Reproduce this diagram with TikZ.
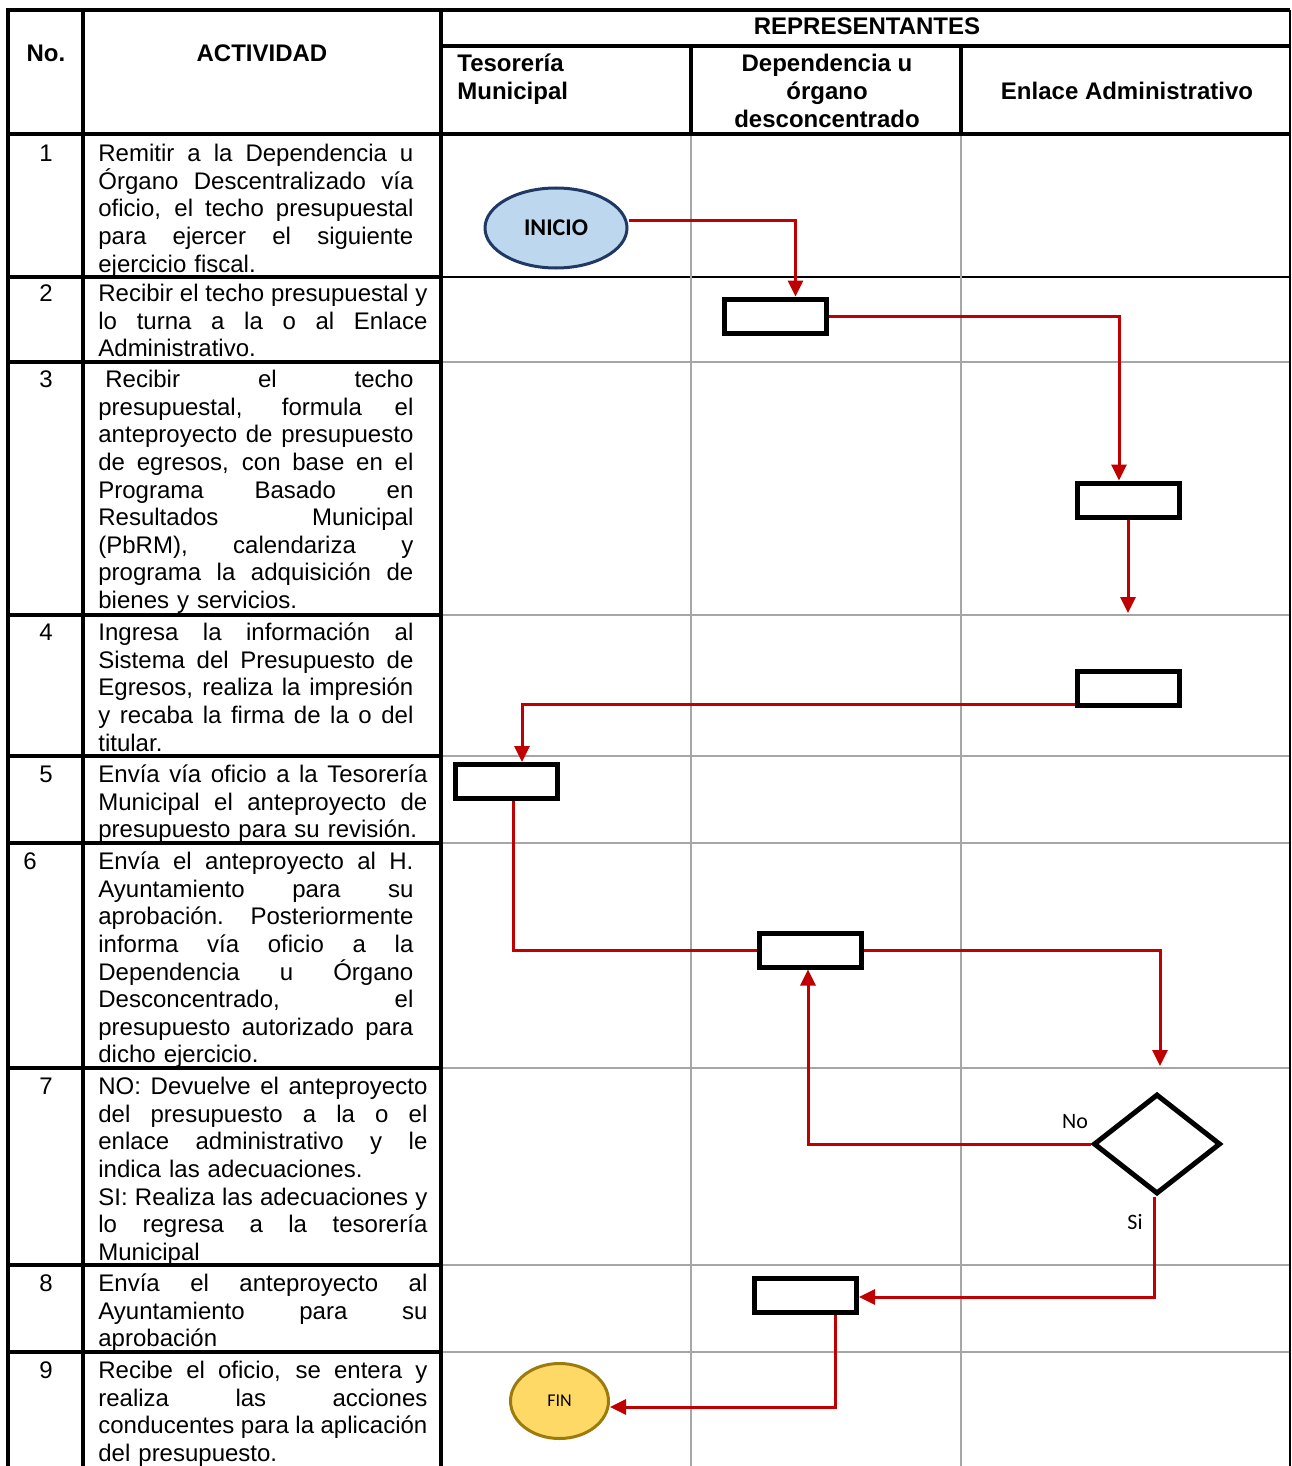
\documentclass[tikz,border=0pt]{standalone}
\usepackage{fontspec}
\setmainfont{Liberation Sans}
\newfontfamily\calfont{Carlito}
\usetikzlibrary{positioning,arrows.meta,shapes.geometric}
\definecolor{cFlow}{HTML}{C00000}
\definecolor{cGrid}{HTML}{A6A6A6}
\definecolor{cStartFill}{HTML}{BDD7EE}
\definecolor{cStartLine}{HTML}{203864}
\definecolor{cEndFill}{HTML}{FFD966}
\definecolor{cEndLine}{HTML}{9C7A0C}
\newcommand{\jl}[1]{\makebox[\hsize][s]{\spaceskip=0pt\xspaceskip=0pt\relax #1}}

\begin{document}
\begin{tikzpicture}[x=0.5pt,y=-0.5pt,
    font=\fontsize{12}{13.8}\selectfont,
    thick rule/.style={line width=2pt,black},
    grid rule/.style={line width=1pt,cGrid},
    head/.style={font=\fontsize{12}{14}\selectfont\bfseries,inner sep=0pt,align=center},
    num/.style={inner sep=0pt,anchor=north},
    act/.style={inner sep=0pt,anchor=north west,align=left,
      execute at begin node={\lineskiplimit=-6pt}},
    task/.style={draw,fill=white,line width=2.5pt,minimum width=51pt,minimum height=17pt,inner sep=0pt},
    flow/.style={cFlow,line width=1.5pt},
    flowarr/.style={flow,-{Triangle[length=8pt,width=7.5pt]}},
    lbl/.style={font=\calfont\fontsize{11}{13}\selectfont,inner sep=0pt}]
  \useasboundingbox (0,0) rectangle (1291,1466);

  % lanes
  \foreach \y in {362,615,756,843,1068,1265,1352}
    \draw[grid rule] (441,\y) -- (1290,\y);
  \draw[line width=1pt] (441,277) -- (1290,277);
  \foreach \x in {691,961}
    \draw[grid rule] (\x,134) -- (\x,1466);
  \draw[line width=1pt] (1290,10) -- (1290,1466);

  % table frame
  \foreach \y in {277,362,615,756,843,1068,1265,1352}
    \draw[thick rule] (8,\y) -- (441,\y);
  \draw[thick rule] (8,10) -- (1290,10);
  \draw[thick rule] (441,46) -- (1290,46);
  \draw[thick rule] (8,134) -- (1290,134);
  \foreach \x in {8,83,441}
    \draw[thick rule] (\x,8) -- (\x,1466);
  \foreach \x in {691,961}
    \draw[thick rule] (\x,46) -- (\x,134);

  % header
  \node[head] (hNo) at (46,53) {No.};
  \node[head] (hAct) at (262,53) {ACTIVIDAD};
  \node[head] (hRep) at (867,26) {REPRESENTANTES};
  \node[head,align=left,anchor=west] (hTes) at (457,79) {Tesorería\\Municipal};
  \node[head] (hDep) at (827,91) {Dependencia u\\órgano\\desconcentrado};
  \node[head] (hEnl) at (1127,91) {Enlace Administrativo};

  % activities
  \node[num] (n1) at (46,142) {\strut 1};
  \node[act,text width=157.5pt] (a1) at (98,142) {\strut\jl{Remitir a la Dependencia u}\\
    \jl{Órgano Descentralizado vía}\\\jl{oficio, el techo presupuestal}\\
    \jl{para ejercer el siguiente}\\ejercicio fiscal.};
  \node[num] (n2) at (46,282) {\strut 2};
  \node[act,text width=164.5pt] (a2) at (98,282) {\strut\jl{Recibir el techo presupuestal y}\\
    \jl{lo turna a la o al Enlace}\\Administrativo.};
  \node[num] (n3) at (46,368) {\strut 3};
  \node[act,text width=157.5pt] (a3) at (98,368) {\strut\jl{\hspace*{3.5pt}Recibir el techo}\\
    \jl{presupuestal, formula el}\\\jl{anteproyecto de presupuesto}\\
    \jl{de egresos, con base en el}\\\jl{Programa Basado en}\\
    \jl{Resultados Municipal}\\\jl{(PbRM), calendariza y}\\
    \jl{programa la adquisición de}\\bienes y servicios.};
  \node[num] (n4) at (46,621) {\strut 4};
  \node[act,text width=157.5pt] (a4) at (98,621) {\strut\jl{Ingresa la información al}\\
    \jl{Sistema del Presupuesto de}\\\jl{Egresos, realiza la impresión}\\
    \jl{y recaba la firma de la o del}\\titular.};
  \node[num] (n5) at (46,763) {\strut 5};
  \node[act,text width=164.5pt] (a5) at (98,763) {\strut\jl{Envía vía oficio a la Tesorería}\\
    \jl{Municipal el anteproyecto de}\\presupuesto para su revisión.};
  \node[num,anchor=north west] (n6) at (23,850) {\strut 6};
  \node[act,text width=157.5pt] (a6) at (98,850) {\strut\jl{Envía el anteproyecto al H.}\\
    \jl{Ayuntamiento para su}\\\jl{aprobación. Posteriormente}\\
    \jl{informa vía oficio a la}\\\jl{Dependencia u Órgano}\\
    \jl{Desconcentrado, el}\\\jl{presupuesto autorizado para}\\dicho ejercicio.};
  \node[num] (n7) at (46,1075) {\strut 7};
  \node[act,text width=164.5pt] (a7) at (98,1075) {\strut\jl{NO: Devuelve el anteproyecto}\\
    \jl{del presupuesto a la o el}\\\jl{enlace administrativo y le}\\
    indica las adecuaciones.\\\jl{SI: Realiza las adecuaciones y}\\
    \jl{lo regresa a la tesorería}\\Municipal};
  \node[num] (n8) at (46,1272) {\strut 8};
  \node[act,text width=164.5pt] (a8) at (98,1272) {\strut\jl{Envía el anteproyecto al}\\
    \jl{Ayuntamiento para su}\\aprobación};
  \node[num] (n9) at (46,1359) {\strut 9};
  \node[act,text width=164.5pt] (a9) at (98,1359) {\strut\jl{Recibe el oficio, se entera y}\\
    \jl{realiza las acciones}\\\jl{conducentes para la aplicación}\\del presupuesto.};

  % flow
  \node[draw=cStartLine,fill=cStartFill,ellipse,line width=1.5pt,minimum width=71pt,
    minimum height=40pt,inner sep=0pt,font=\calfont\bfseries\fontsize{12}{14}\selectfont]
    (inicio) at (556,228) {INICIO};
  \node[task] (t1) at (775.5,316) {};
  \node[task] (t2) at (1128,500) {};
  \coordinate (e3) at (1128,613);
  \node[task] (t3) at (1128,688) {};
  \node[task] (t4) at (506,781.5) {};
  \node[task] (t5) at (810,950) {};
  \coordinate (e6) at (1160,1066);
  \node[draw,fill=white,diamond,line width=2.5pt,minimum width=63.5pt,minimum height=50pt,
    inner sep=0pt] (dec) at (1157,1144) {};
  \node[task] (t6) at (805.5,1295) {};
  \node[draw=cEndLine,fill=cEndFill,ellipse,line width=1.5pt,minimum width=49pt,
    minimum height=37.5pt,inner sep=0pt,font=\calfont\fontsize{9}{11}\selectfont]
    (fin) at (559.5,1401) {FIN};
  \node[lbl] (lNo) at (1075,1122) {No};
  \node[lbl] (lSi) at (1135,1222) {Si};

  \draw[flowarr] ([yshift=3.5pt]inicio.east) -| ([xshift=10pt]t1.north);
  \draw[flowarr] (t1.east) -| ([xshift=-4.5pt]t2.north);
  \draw[flowarr] (t2.south) -- (e3);
  \draw[flowarr] ([yshift=-8pt]t3.west) -| ([xshift=8pt]t4.north);
  \draw[flow] ([xshift=3.5pt]t4.south) |- (t5.west);
  \draw[flowarr] (t5.east) -| (e6);
  \draw[flowarr] (dec.west) -| ([xshift=-1pt]t5.south);
  \draw[flowarr] ([xshift=-1.5pt]dec.south) |- ([yshift=-1pt]t6.east);
  \draw[flowarr] ([xshift=15pt]t6.south) |- ([yshift=-3pt]fin.east);
\end{tikzpicture}
\end{document}
